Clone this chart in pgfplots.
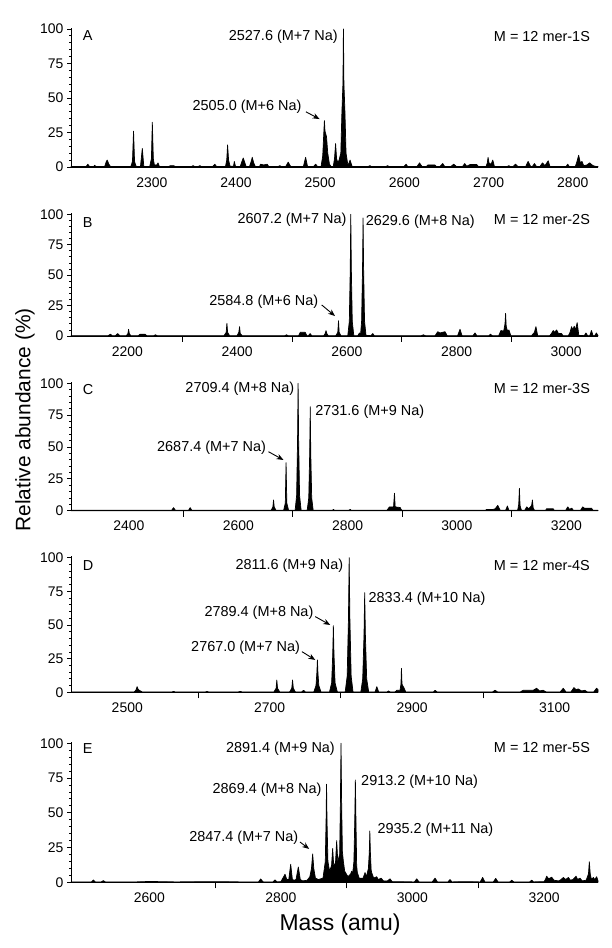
\documentclass[border=0pt]{standalone}
\usepackage{fontspec}
\setmainfont{Liberation Sans}
\usepackage{pgfplots}
\pgfplotsset{compat=1.18}
\usetikzlibrary{arrows.meta}

\pgfplotsset{
  msbase/.style={
    scale only axis, width=527bp, clip=false,
    ymin=0, ymax=101,
    axis x line=bottom, axis y line=left,
    axis line style={-, line width=0.9bp},
    ytick={0,25,50,75,100},
    minor y tick num=4,
    tick align=outside,
    major tick length=4bp, minor tick length=2bp,
    tick style={line width=0.8bp, black},
    xtick style={draw=none},
    extra x tick labels={},
    extra x tick style={major tick length=6bp, /pgfplots/every x tick/.style={draw=black, line width=1bp}},
    tick label style={font=\fontsize{14}{16}\selectfont},
    /pgf/number format/assume math mode=true,
    /pgf/number format/set thousands separator={},
    xticklabel style={yshift=-3bp},
  },
  spec/.style={fill=black, draw=black, line width=0.7bp, line join=round},
}
\tikzset{
  lab/.style={font=\fontsize{14.5}{16}\selectfont, inner sep=0pt},
  arr/.style={-{Stealth[length=7bp,width=5.5bp]}, line width=0.9bp},
}

\begin{document}
\begin{tikzpicture}
\useasboundingbox (0,0) rectangle (612bp,948bp);

% ---- A ----
\begin{axis}[msbase, at={(71bp,781bp)}, anchor=south west, height=139.4bp,
  xmin=2204, xmax=2830, xtick={2300,2400,2500,2600,2700,2800}]
\addplot[spec] coordinates {(2204,0.3) (2222,0.3) (2224,2) (2226,0.3) (2231,0.3) (2232,1.2) (2234,0.3)
(2244,0.3) (2246,4) (2247,5) (2249,2) (2251,0.3)
(2275,0.3) (2277,4) (2278.3,26) (2279.5,4) (2281,1) (2282,0.3)
(2286.5,0.3) (2288.7,13.5) (2290.5,0.3)
(2297.5,0.3) (2299.5,6) (2300.6,32.4) (2301.8,6) (2303,1.5) (2306,1.5) (2307.4,3) (2309,0.3)
(2320,0.3) (2322,1) (2326,1) (2328,0.3)
(2347,0.3) (2349,1) (2351,0.3) (2355,0.3) (2357,1) (2359,0.3)
(2372,0.3) (2374.8,2) (2377,0.3)
(2387.5,0.3) (2389,5) (2390,16) (2391.2,5) (2393,0.5) (2397,0.5) (2398,4) (2399.5,0.3)
(2405,0.3) (2407,4) (2408.6,6.5) (2410,4) (2412,0.3)
(2416,0.3) (2418,4) (2419.3,7) (2421,3) (2423,0.3)
(2428,0.3) (2429,2) (2433,1.5) (2437,2) (2439,0.3)
(2450,0.3) (2452,1) (2454,0.3)
(2459,0.3) (2462,3.5) (2465,0.3)
(2480,0.3) (2482.7,7) (2485,0.3)
(2492,0.3) (2494.6,2) (2497,0.3)
(2501,0.3) (2503,8) (2504.3,25) (2505,33.6) (2505.7,26) (2507.5,22) (2509,10) (2511,2) (2513,0.3)
(2515.5,0.3) (2517,6) (2518.3,17) (2519.5,6) (2521,3) (2522.4,5)
(2524.5,10) (2525.8,40) (2527,60) (2527.6,100) (2528.2,60) (2529.4,40) (2530.7,10) (2533,1) (2535.5,5) (2538,0.3)
(2557,0.3) (2559,1) (2561,0.3) (2578,0.3) (2580,1) (2582,0.3)
(2599.5,0.3) (2602,2) (2604,0.3)
(2615,0.3) (2618,3) (2621,0.3)
(2626,0.3) (2628,1.5) (2636,1.5) (2638,0.3)
(2642,0.3) (2645.5,2.5) (2648,0.3)
(2655,0.3) (2658.6,2) (2662,0.3)
(2669,0.3) (2671.7,2.5) (2674,0.5) (2678,1.8) (2686,1.8) (2688,0.3)
(2697,0.3) (2698.5,3) (2699.4,7) (2700.5,3) (2703,2) (2705,5) (2707,0.3)
(2722,0.3) (2724,1) (2726,0.3) (2729,0.3) (2732,2) (2735,0.3)
(2744,0.3) (2747,4) (2750,0.3) (2752,0.3) (2754.5,2.5) (2757,0.3)
(2761,0.3) (2764,3) (2767,1) (2770.8,4.5) (2773,0.3)
(2792,0.3) (2794,2) (2796,0.3)
(2803,0.3) (2805,4) (2807,8.5) (2809,3) (2811,4) (2813,1) (2817,1.5) (2820,3) (2822,2) (2824,1) (2828,0.3) (2830,0.3)} \closedcycle;
\node[lab, anchor=west] at (axis description cs:0.022,0.94) {A};
\node[lab, anchor=east] at (axis description cs:0.985,0.934) {M = 12 mer-1S};
\node[lab, anchor=east] at (axis cs:2521,94.4) {2527.6 (M+7 Na)};
\node[lab, anchor=east] at (axis cs:2478,43.3) {2505.0 (M+6 Na)};
\draw[arr] (axis cs:2483,40) -- (axis cs:2499.3,34.7);
\end{axis}

% ---- B ----
\begin{axis}[msbase, at={(71bp,612bp)}, anchor=south west, height=122.9bp,
  xmin=2097, xmax=3058, xtick={2200,2400,2600,2800,3000}, extra x ticks={2300,2500,2700,2900}]
\addplot[spec] coordinates {(2097,0.3) (2165,0.3) (2168.8,1.5) (2172,0.3) (2178,0.3) (2182,2) (2186,0.3)
(2198,0.3) (2200.8,2) (2202,5.5) (2203.3,2) (2206,0.3)
(2220,0.3) (2223,1.5) (2232,1.5) (2235,0.3) (2248,0.3) (2251,1) (2254,0.3)
(2376,0.3) (2380,3) (2381.3,10.4) (2382.6,3) (2386,0.3)
(2400,0.3) (2403,3) (2404.4,7.7) (2405.6,2) (2409,0.3)
(2487,0.3) (2490,1) (2493,0.3)
(2512,0.3) (2515,3) (2524,3) (2527,0.3) (2530,0.3) (2533,2) (2536,0.3)
(2558,0.3) (2560.5,2) (2562,4.4) (2563.5,2) (2566,0.3)
(2580,0.3) (2583.5,3) (2584.8,12.5) (2586,3) (2589,0.3)
(2601.7,0.3) (2604.5,12) (2606.2,55) (2607.2,100) (2608.2,55) (2609.9,12) (2612.7,0.3)
(2620,0.3) (2623,2.5) (2625,1) (2626.9,12) (2628.6,55) (2629.6,97) (2630.6,55) (2632.3,12) (2635,0.5)
(2644,0.3) (2647.3,2) (2650,0.3)
(2736,0.3) (2739.5,1) (2743,0.3)
(2761,0.3) (2765.7,3.5) (2770,2.5) (2779,3.5) (2783,0.3)
(2802,0.3) (2806.4,5.5) (2810,0.3)
(2830,0.3) (2833.7,2.5) (2837,0.3)
(2859,0.3) (2862,1.5) (2865,0.3)
(2877,0.3) (2881,4.5) (2886,4) (2888.4,10) (2889.5,18.6) (2890.6,8) (2893,4) (2895.5,5) (2899,0.3)
(2937,0.3) (2940,2) (2942,3) (2944.8,7.7) (2948,0.3)
(2970,0.3) (2973,2) (2976.4,4.5) (2979,3) (2982.5,5) (2986,2) (2991.5,2) (2994,0.3)
(3004,0.3) (3007,3) (3009.8,7.7) (3012,5) (3014.6,8) (3017,5) (3020,11) (3023,0.5)
(3033,0.3) (3036,2.5) (3039,0.3) (3043,0.3) (3046,4.5) (3049,0.3) (3052,0.3) (3055,2.5) (3058,0.3)} \closedcycle;
\node[lab, anchor=west] at (axis description cs:0.022,0.92) {B};
\node[lab, anchor=east] at (axis description cs:0.985,0.95) {M = 12 mer-2S};
\node[lab, anchor=east] at (axis cs:2599.7,95.9) {2607.2 (M+7 Na)};
\node[lab, anchor=west] at (axis cs:2634.3,94) {2629.6 (M+8 Na)};
\node[lab, anchor=east] at (axis cs:2548,28.2) {2584.8 (M+6 Na)};
\draw[arr] (axis cs:2554.2,25.5) -- (axis cs:2578.4,16.4);
\end{axis}

% ---- C ----
\begin{axis}[msbase, at={(71bp,437.3bp)}, anchor=south west, height=128.7bp,
  xmin=2294, xmax=3258, xtick={2400,2600,2800,3000,3200}, extra x ticks={2500,2700,2900,3100}]
\addplot[spec] coordinates {(2294,0.3) (2478,0.3) (2481.6,2.4) (2485,0.3) (2509,0.3) (2512,2.4) (2515,0.3)
(2660,0.3) (2663.3,3) (2664.5,8.4) (2665.7,3) (2669,0.3)
(2683,0.3) (2686,6) (2687.4,37.7) (2688.8,6) (2692,0.3)
(2704,0.3) (2706.7,12) (2708.4,55) (2709.4,100) (2710.4,55) (2712.1,12) (2715,0.3)
(2726,0.3) (2728.9,10) (2730.6,45) (2731.6,81.6) (2732.6,45) (2734.3,10) (2737,0.3)
(2772,0.3) (2774,1) (2776,0.3) (2802,0.3) (2804.6,1) (2807,0.3)
(2872,0.3) (2876.5,3) (2884,3) (2885.7,13.7) (2887,3) (2896,2.5) (2899,0.3)
(3052,0.3) (3054,1) (3066,1) (3070,1.5) (3074.6,4.2) (3079,0.3)
(3089,0.3) (3092.3,3.7) (3095,0.3)
(3111,0.3) (3113,5) (3114.2,17.6) (3115.4,4) (3118,0.3)
(3124,0.3) (3127.6,3) (3131,1.5) (3136.5,4) (3138,8.4) (3139.5,2) (3142,0.3)
(3162,0.3) (3164,1.5) (3176,1.5) (3178,0.3)
(3199,0.3) (3202.6,3) (3206,1) (3210,2) (3213,0.3)
(3226,0.3) (3230,3) (3233,2) (3246,2) (3249,0.3) (3258,0.3)} \closedcycle;
\node[lab, anchor=west] at (axis description cs:0.022,0.94) {C};
\node[lab, anchor=east] at (axis description cs:0.985,0.95) {M = 12 mer-3S};
\node[lab, anchor=east] at (axis cs:2702.8,96) {2709.4 (M+8 Na)};
\node[lab, anchor=west] at (axis cs:2740.6,77.7) {2731.6 (M+9 Na)};
\node[lab, anchor=east] at (axis cs:2651,49) {2687.4 (M+7 Na)};
\draw[arr] (axis cs:2655.2,46.3) -- (axis cs:2682.7,39.8);
\end{axis}

% ---- D ----
\begin{axis}[msbase, at={(71bp,255.7bp)}, anchor=south west, height=136bp,
  xmin=2421, xmax=3161, xtick={2500,2700,2900,3100}, extra x ticks={2600,2800,3000}]
\addplot[spec] coordinates {(2422,0.3) (2510,0.3) (2512.5,2) (2513.8,4.2) (2515.5,2) (2518.5,1) (2521,0.3)
(2563,0.3) (2565,0.7) (2567,0.3) (2610,0.3) (2612,0.7) (2614,0.3) (2656,0.3) (2658.7,0.7) (2661,0.3)
(2706,0.3) (2709,3) (2710,9.1) (2711,3) (2714,0.3)
(2728,0.3) (2731,3) (2732.1,9.1) (2733.2,3) (2736,0.3)
(2745,0.3) (2747.5,1.5) (2750,0.3)
(2762,0.3) (2765,5) (2766.2,14) (2767,24) (2767.8,14) (2769,5) (2772,0.3)
(2784,0.3) (2787,7) (2788.5,28) (2789.4,49.5) (2790.3,28) (2791.8,7) (2795,0.3)
(2806,0.3) (2808.8,12) (2810.6,55) (2811.6,100) (2812.6,55) (2814.4,12) (2817,0.3)
(2828,0.3) (2830.6,10) (2832.4,42) (2833.4,74) (2834.4,42) (2836.2,10) (2839,0.3)
(2848,0.3) (2850.4,4.2) (2853,0.3) (2865,0.3) (2866.8,1) (2869,0.3)
(2876,0.3) (2878.5,1.5) (2883,1.5) (2884.3,6) (2885,17.8) (2885.8,6) (2888.8,3) (2891,0.3)
(2930,0.3) (2932.2,1.5) (2935,0.3) (3013,0.3) (3016.4,1.5) (3020,0.3)
(3052,0.3) (3056,1.5) (3070,1.5) (3074.8,3) (3079,1) (3084,1.5) (3088,0.3)
(3108,0.3) (3112.2,3) (3116,0.3) (3123,0.3) (3127.2,3.5) (3130,2) (3133.3,2.5) (3138,1) (3142.6,1.5) (3146,0.3)
(3155,0.3) (3159,3) (3161,2)} \closedcycle;
\node[lab, anchor=west] at (axis description cs:0.022,0.93) {D};
\node[lab, anchor=east] at (axis description cs:0.985,0.93) {M = 12 mer-4S};
\node[lab, anchor=east] at (axis cs:2803.6,94) {2811.6 (M+9 Na)};
\node[lab, anchor=west] at (axis cs:2838.7,69.3) {2833.4 (M+10 Na)};
\node[lab, anchor=east] at (axis cs:2761.6,58.7) {2789.4 (M+8 Na)};
\draw[arr] (axis cs:2764,56.2) -- (axis cs:2785,50);
\node[lab, anchor=east] at (axis cs:2742.9,33.1) {2767.0 (M+7 Na)};
\draw[arr] (axis cs:2745.3,30.2) -- (axis cs:2764,24);
\end{axis}

% ---- E ----
\begin{axis}[msbase, at={(71bp,65.7bp)}, anchor=south west, height=140.4bp,
  xmin=2481, xmax=3282, xtick={2600,2800,3000,3200}, extra x ticks={2700,2900,3100}]
\addplot[spec] coordinates {(2481,0.3) (2512,0.3) (2515,1.7) (2518,0.3) (2527,0.3) (2530.2,1.2) (2533,0.3)
(2580,0.3) (2600,0.6) (2640,0.3) (2700,0.5) (2740,0.3)
(2766,0.3) (2769.3,2.4) (2773,0.3) (2788,0.3) (2791,1.7) (2794,0.3)
(2800,0.5) (2803,3) (2806.3,5.8) (2809,2) (2812,2) (2814.9,13) (2817.5,2) (2820,1.5) (2823,2) (2826.5,11) (2829.5,2)
(2833,1) (2840,1.5) (2844,4) (2846.5,10) (2848.3,20.4) (2850,10) (2852.5,3) (2857,2) (2864,3)
(2867.5,15) (2868.7,45) (2869.4,70.5) (2870.1,45) (2871.5,15) (2874,8) (2877,12) (2878.7,24.4) (2880.3,12)
(2883,14) (2884.8,30) (2886.5,15) (2889.3,20) (2890.4,55) (2891.4,100) (2892.4,55) (2893.5,22) (2895,15) (2897,8)
(2902,4) (2906,6) (2907.6,8) (2909,6) (2911,15) (2912.3,45) (2913.2,73.6) (2914.1,45) (2915.2,12) (2916.2,7)
(2919,3) (2925,3) (2927.9,7) (2930,4) (2933,10) (2934.4,22) (2935.2,36.9) (2936,22) (2937.2,9) (2938,7)
(2941,3) (2945.6,4) (2948,2) (2952.2,3) (2956,1) (2962,1) (2965.9,2.5) (2969,0.5)
(3003,0.3) (3006.4,2.5) (3010,0.3) (3030,0.3) (3034.3,3) (3038,0.3) (3054,0.3) (3057,2) (3060,0.3) (3080,0.5)
(3103,0.3) (3106.7,3.5) (3110,0.3) (3123,0.3) (3126.5,2.8) (3130,0.3) (3148,0.3) (3150.8,1.5) (3154,0.3)
(3178,0.3) (3181.2,1.5) (3184,0.3)
(3200,0.5) (3202,2) (3204,4.4) (3207,2.5) (3211.6,3.7) (3215,1.5) (3222,1) (3226,2) (3229.3,3.5) (3233,2)
(3237,3.5) (3240,1.5) (3244,2) (3248.6,4.4) (3251,2) (3254.6,3) (3258,1) (3264,1.5) (3267.5,6) (3268.8,14.8)
(3270.2,6) (3272,2) (3274.9,3.5) (3277,2) (3280,4) (3282,1)} \closedcycle;
\node[lab, anchor=west] at (axis description cs:0.022,0.955) {E};
\node[lab, anchor=east] at (axis description cs:0.985,0.96) {M = 12 mer-5S};
\node[lab, anchor=east] at (axis cs:2882.3,96.4) {2891.4 (M+9 Na)};
\node[lab, anchor=east] at (axis cs:2862,66.4) {2869.4 (M+8 Na)};
\node[lab, anchor=west] at (axis cs:2921.8,72.4) {2913.2 (M+10 Na)};
\node[lab, anchor=west] at (axis cs:2946.6,37.6) {2935.2 (M+11 Na)};
\node[lab, anchor=east] at (axis cs:2826.5,31.7) {2847.4 (M+7 Na)};
\draw[arr] (axis cs:2829,29) -- (axis cs:2843,24);
\end{axis}

\node[rotate=90, font=\fontsize{21}{24}\selectfont] at (25bp,528bp) {Relative abundance (\%)};
\node[font=\fontsize{23}{26}\selectfont] at (340bp,23bp) {Mass (amu)};
\end{tikzpicture}
\end{document}
